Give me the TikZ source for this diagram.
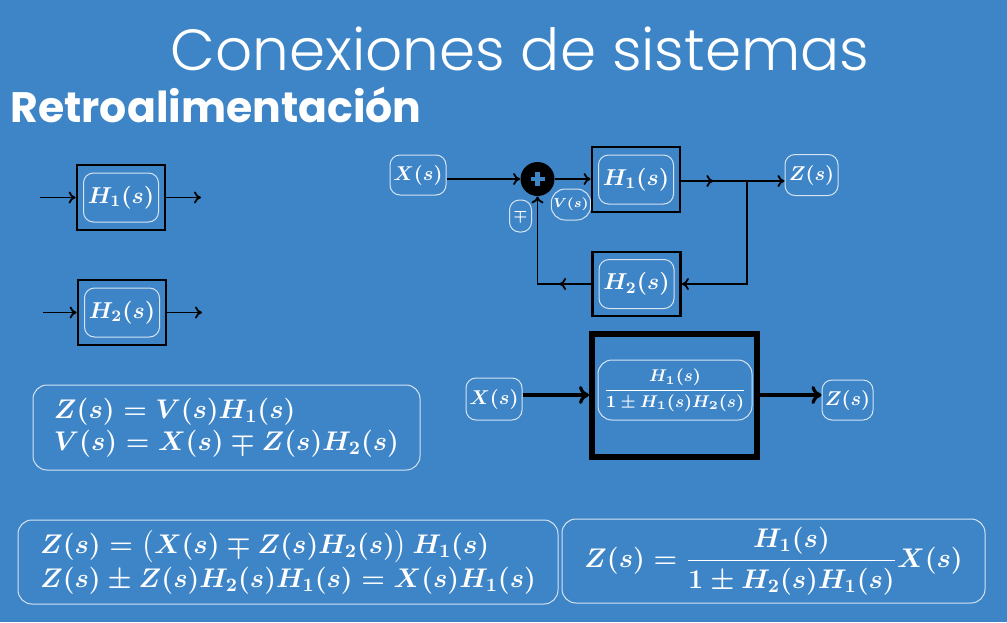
\RequirePackage{fix-cm}
\documentclass[tikz,border=0pt]{standalone}
\usepackage{amsmath,amssymb}
\usepackage[no-math]{fontspec}
\newfontfamily\titlefont{Poppins}
\newfontfamily\titlelight{Poppins Light}
\usepackage{tikz}
\usetikzlibrary{arrows.meta,positioning}
\definecolor{bgblue}{RGB}{62,133,199}
\definecolor{rimwhite}{RGB}{214,228,242}
\newcommand{\mfs}[1]{\fontsize{#1}{#1}\selectfont\boldmath}

\begin{document}
\begin{tikzpicture}[x=0.5pt, y=-0.5pt, >={To[length=3.5pt,width=6pt]},
  blk/.style={draw=black, line width=1.4pt, minimum width=44pt, minimum height=32.5pt, inner sep=0pt},
  lbl/.style={draw=rimwhite, line width=0.5pt, rounded corners=5pt, text=white, inner sep=1pt},
  eqbox/.style={draw=rimwhite, line width=0.5pt, rounded corners=7pt, text=white, align=left, inner sep=0pt}]

\fill[bgblue] (0,0) rectangle (1007,622);
\useasboundingbox (0,0) rectangle (1007,622);

% ---------- headings ----------
\node[anchor=base, text=white, inner sep=0pt, font=\titlelight\fontsize{29}{32}\selectfont] (title) at (520,70) {Conexiones de sistemas};
\node[anchor=base west, text=white, inner sep=0pt, font=\titlefont\bfseries\fontsize{21.3}{24}\selectfont] (sub) at (10,122) {Retroalimentación};

% ---------- single blocks (left) ----------
\node[blk] (b1) at (121,197.5) {};
\node[lbl, minimum width=37.5pt, minimum height=24.5pt, font=\mfs{11.5}] (b1t) at (b1) {$H_1(s)$};
\coordinate (b1in) at (40,197.5);
\coordinate (b1out) at (201,197.5);
\draw[->, line width=0.9pt] (b1in) -- (b1.west);
\draw[->, line width=0.9pt] (b1.east) -- (b1out);

\node[blk] (b2) at (122,312.5) {};
\node[lbl, minimum width=37.5pt, minimum height=24.5pt, font=\mfs{11.5}] (b2t) at (b2) {$H_2(s)$};
\coordinate (b2in) at (43,312.5);
\coordinate (b2out) at (202,312.5);
\draw[->, line width=0.9pt] (b2in) -- (b2.west);
\draw[->, line width=0.9pt] (b2.east) -- (b2out);

% ---------- feedback loop (top right) ----------
\node[lbl, minimum width=28pt, minimum height=20pt, font=\mfs{10}] (xin) at (418,175) {$X(s)$};
\node[circle, fill=black, minimum size=17pt, inner sep=0pt] (sum) at (537.5,179) {};
\draw[bgblue, line width=2.2pt] (sum.center) +(-7,0) -- +(7,0) (sum.center) +(0,-7) -- +(0,7);
\node[lbl, minimum width=19pt, minimum height=15.5pt, rounded corners=7pt, font=\mfs{6.5}] (vs) at (571,204.5) {$V(s)$};
\node[lbl, minimum width=11pt, minimum height=16pt, rounded corners=5pt, font=\mfs{7}] (mp) at (520.5,216) {$\mp$};

\node[blk] (h1) at (636,179.5) {};
\node[lbl, minimum width=37.5pt, minimum height=24.5pt, font=\mfs{11.5}] (h1t) at (h1) {$H_1(s)$};
\node[blk, minimum height=32pt] (h2) at (636.5,284) {};
\node[lbl, minimum width=37.5pt, minimum height=24.5pt, font=\mfs{11.5}] (h2t) at (h2) {$H_2(s)$};
\node[lbl, minimum width=26.5pt, minimum height=20.5pt, font=\mfs{10}] (zout) at (811.5,175) {$Z(s)$};

\coordinate (br) at (747,181);
\coordinate (fb) at (sum |- h2);
\draw[->, line width=0.9pt] (xin.east |- sum) -- (sum.west);
\draw[->, line width=0.9pt] (sum.east) -- (sum.east -| h1.west);
\draw[->, line width=0.9pt] (h1.east |- br) -- (br -| zout.west);
\draw[->, line width=0.9pt] (h1.east |- br) -- ++(32,0);
\draw[->, line width=0.9pt] (br) |- (h2.east);
\draw[->, line width=0.9pt] (h2.west) -- ++(-32,0);
\draw[->, line width=0.9pt] (h2.west) -- (fb) -- (sum.south);

% ---------- closed loop block ----------
\node[lbl, minimum width=28pt, minimum height=21pt, font=\mfs{10}] (xin2) at (494,399) {$X(s)$};
\node[draw=black, line width=3pt, minimum width=82.5pt, minimum height=61.5pt, inner sep=0pt] (hc) at (674.5,395) {};
\node[lbl, minimum width=77pt, minimum height=30pt, rounded corners=7pt, font=\mfs{8.5}] (hct) at (675,390) {$\dfrac{H_1(s)}{1\pm H_1(s)H_2(s)}$};
\node[lbl, minimum width=25.5pt, minimum height=20pt, font=\mfs{10}] (zout2) at (847.5,400) {$Z(s)$};
\draw[-{To[length=5pt,width=9pt]}, line width=1.6pt] (xin2.east |- hc) -- (hc.west);
\draw[-{To[length=5pt,width=9pt]}, line width=1.6pt] (hc.east) -- (hc.east -| zout2.west);

% ---------- equations ----------
\node[eqbox, minimum width=193.5pt, minimum height=42.5pt, font=\fontsize{13.5}{16}\selectfont\boldmath] (eq1) at (226.5,427.5)
  {$Z(s)=V(s)H_1(s)$\\$V(s)=X(s)\mp Z(s)H_2(s)$};
\node[eqbox, minimum width=270pt, minimum height=42pt, font=\fontsize{13.5}{17}\selectfont\boldmath] (eq2) at (288,562)
  {$Z(s)=\bigl(X(s)\mp Z(s)H_2(s)\bigr)\,H_1(s)$\\$Z(s)\pm Z(s)H_2(s)H_1(s)=X(s)H_1(s)$};
\node[eqbox, minimum width=211.5pt, minimum height=42pt, font=\fontsize{13.5}{17}\selectfont\boldmath] (eq3) at (773.5,561)
  {$Z(s)=\dfrac{H_1(s)}{1\pm H_2(s)H_1(s)}X(s)$};
\end{tikzpicture}
\end{document}
